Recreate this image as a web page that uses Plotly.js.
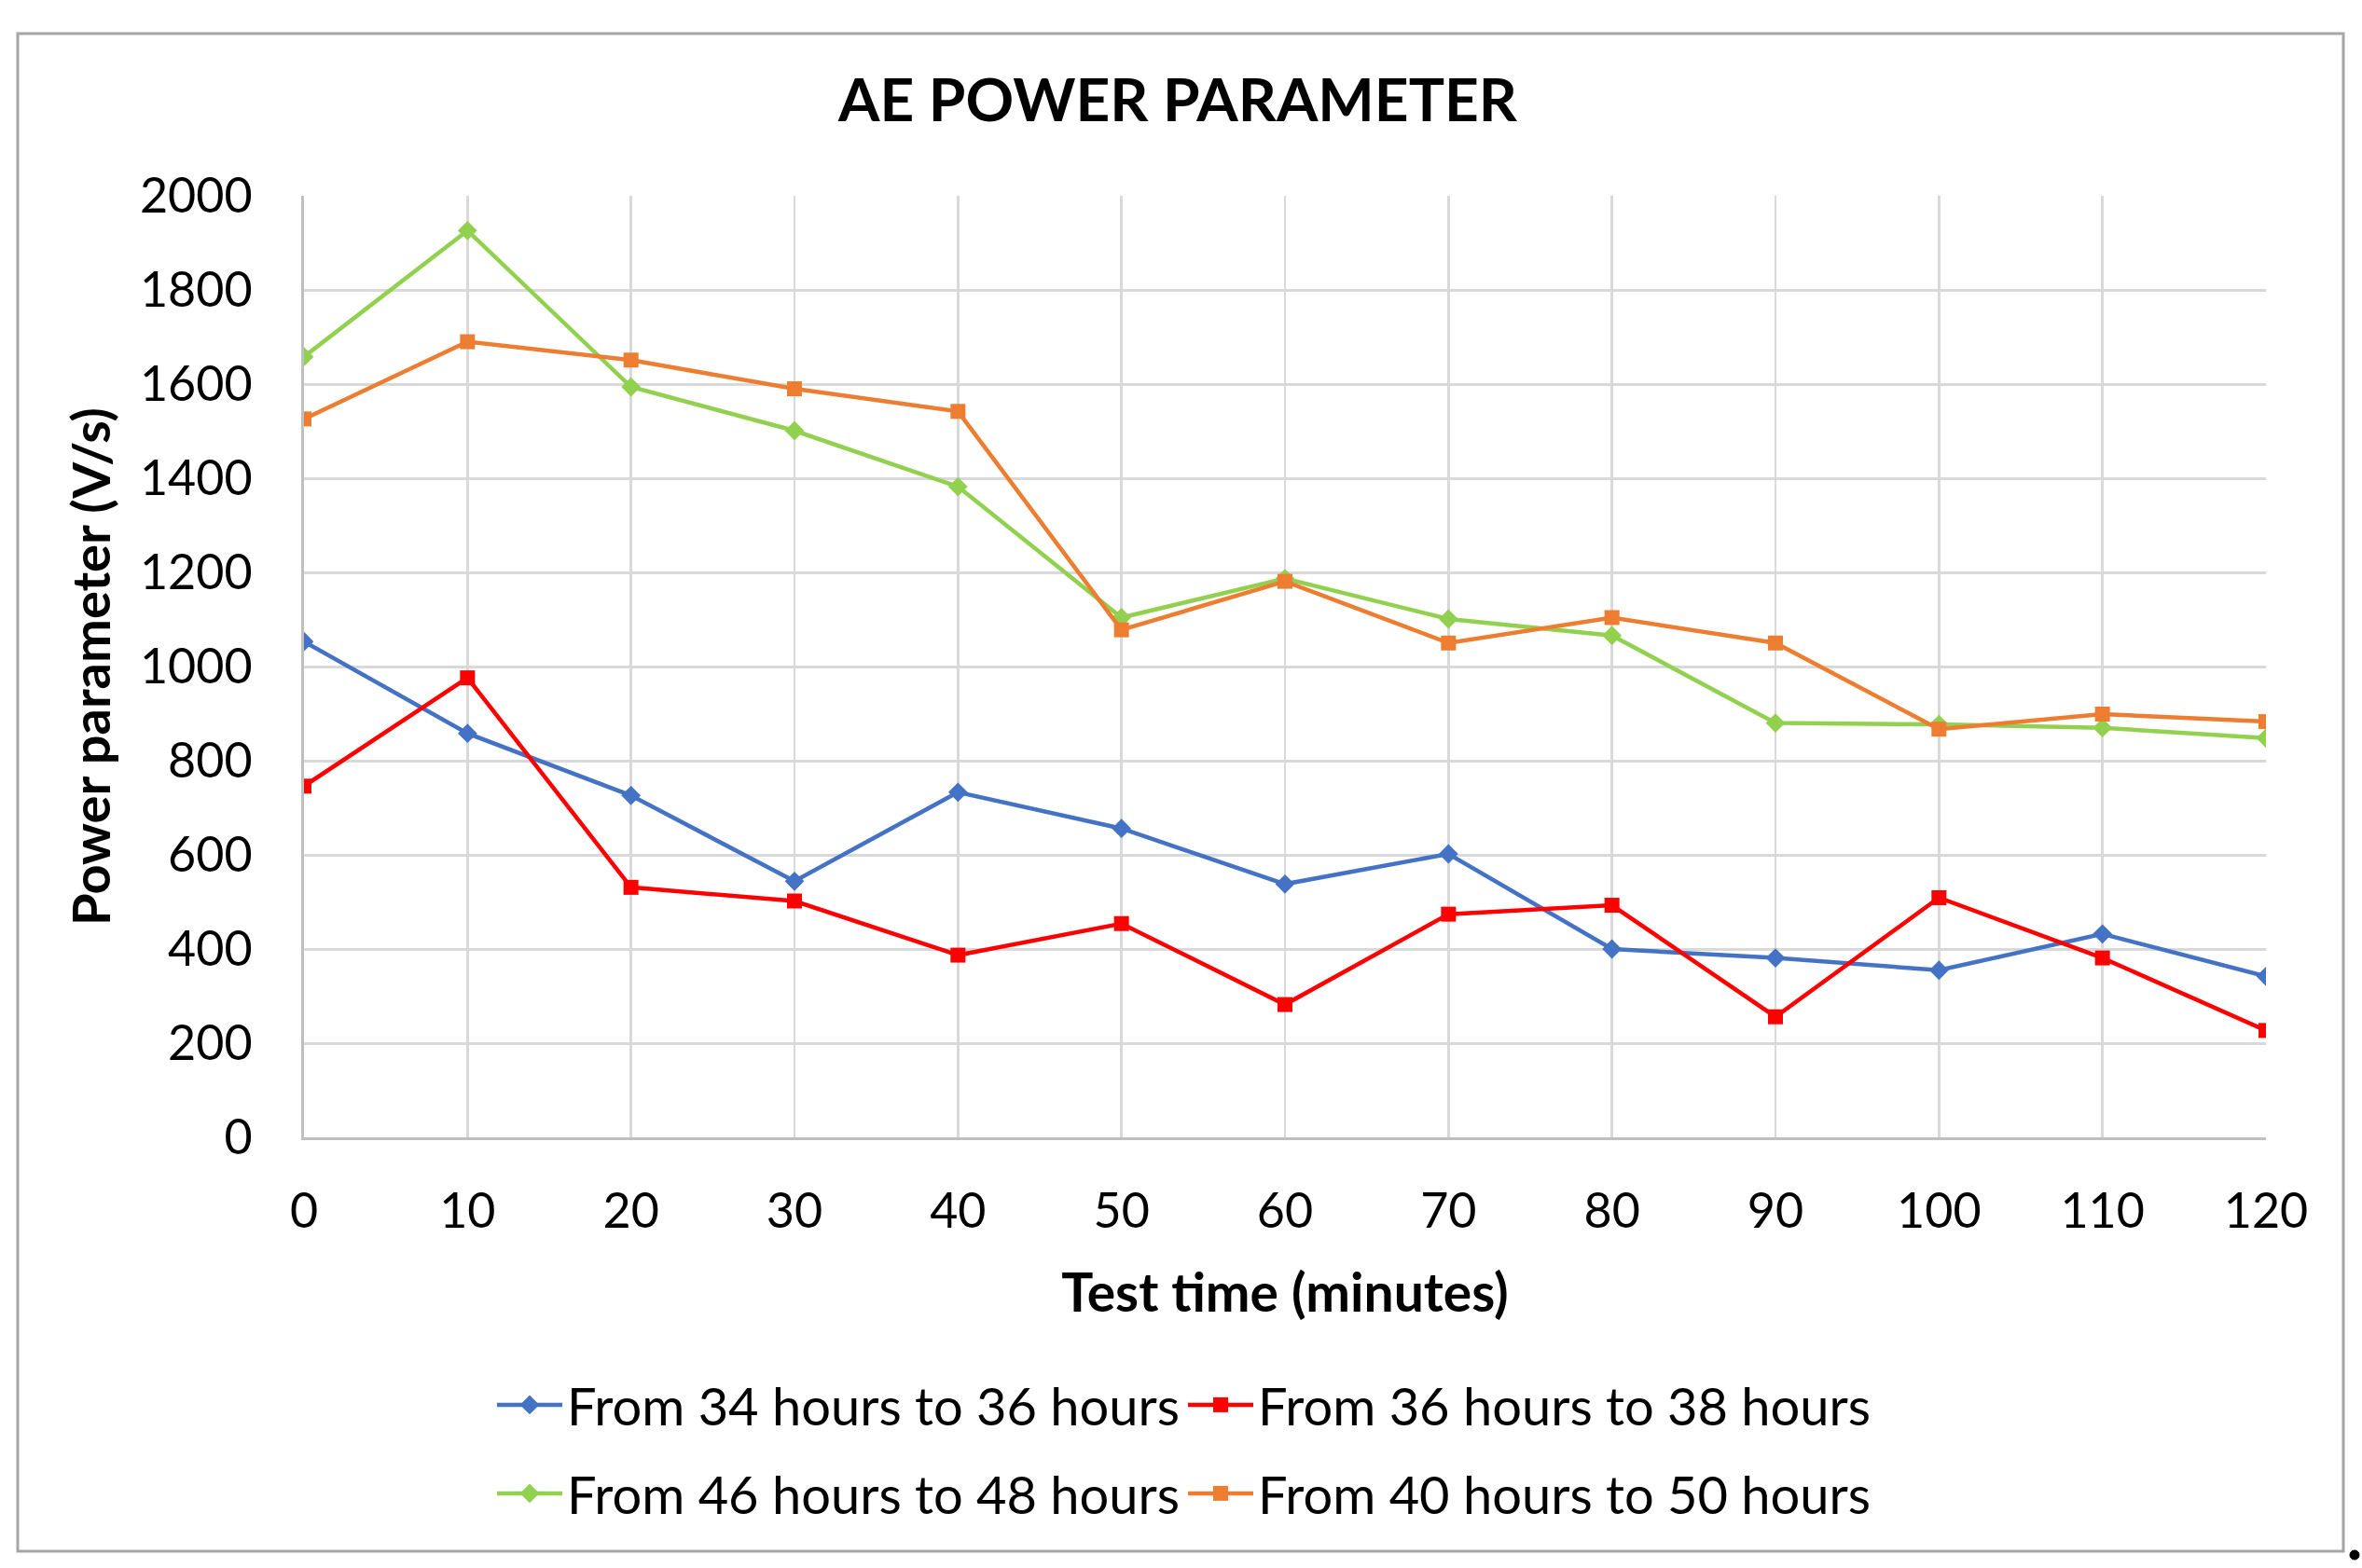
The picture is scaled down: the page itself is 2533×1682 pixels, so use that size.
<!DOCTYPE html>
<html>
<head>
<meta charset="utf-8">
<script src="https://cdn.plot.ly/plotly-3.0.1.min.js"></script>
<style>html,body{margin:0;padding:0;background:#fff;}#chart{width:2533px;height:1682px;}</style>
</head>
<body>
<div id="chart"></div>
<script>
// ---- data ----
const testTime = [0, 10, 20, 30, 40, 50, 60, 70, 80, 90, 100, 110, 120];
const xTickLabels = ["0", "10", "20", "30", "40", "50", "60", "70", "80", "90", "100", "110", "120"];
const seriesNames = ["From 34 hours to 36 hours", "From 36 hours to 38 hours", "From 46 hours to 48 hours", "From 40 hours to 50 hours"];
const h34to36 = [1053, 858, 726, 544, 733, 656, 538, 602, 400, 381, 355, 432, 342];
const h36to38 = [746, 976, 531, 502, 387, 454, 282, 474, 493, 256, 509, 381, 227];
const h46to48 = [1658, 1926, 1594, 1501, 1382, 1104, 1187, 1101, 1066, 880, 877, 870, 848];
const h40to50 = [1526, 1690, 1651, 1590, 1542, 1078, 1181, 1050, 1104, 1050, 867, 899, 883];

const W = 2533, H = 1682;
const M = {l: 326, r: 103, t: 210, b: 462};
const PW = W - M.l - M.r, PH = H - M.t - M.b;
const px = v => (v - M.l) / PW;
const py = v => (H - M.b - v) / PH;

const FONT = "Lato, 'Open Sans', sans-serif";

function mk(y, name, color, symbol, size, legend) {
  return {
    x: testTime, y: y, name: name, type: 'scatter', mode: 'lines+markers',
    line: {color: color, width: 4.5},
    marker: {color: color, symbol: symbol, size: size},
    legend: legend
  };
}

const traces = [
  mk(h34to36, seriesNames[0], '#4472C4', 'diamond', 16, 'legend'),
  mk(h36to38, seriesNames[1], '#FF0000', 'square', 16, 'legend'),
  mk(h46to48, seriesNames[2], '#92D050', 'diamond', 16, 'legend2'),
  mk(h40to50, seriesNames[3], '#ED7D31', 'square', 16, 'legend2')
];

const legendCommon = {
  orientation: 'h', xref: 'paper', yref: 'paper',
  xanchor: 'left', yanchor: 'middle',
  font: {family: FONT, size: 56, color: '#000'},
  entrywidth: 656, entrywidthmode: 'pixels',
  itemwidth: 70, bgcolor: 'rgba(0,0,0,0)', traceorder: 'normal'
};

const layout = {
  width: W, height: H,
  margin: M,
  paper_bgcolor: '#fff', plot_bgcolor: '#fff',
  showlegend: true,
  title: {
    text: 'AE POWER PARAMETER',
    font: {family: FONT, size: 64, weight: 700, color: '#000'},
    xref: 'container', yref: 'container',
    x: 1263 / W, y: 1 - 108 / H, xanchor: 'center', yanchor: 'middle'
  },
  xaxis: {
    range: [0, 120], tickvals: testTime, ticktext: xTickLabels,
    showgrid: true, gridcolor: '#D9D9D9', gridwidth: 2.5,
    showline: true, linecolor: '#BFBFBF', linewidth: 3,
    zeroline: false, ticks: '', ticklabelstandoff: 32,
    tickfont: {family: FONT, size: 52, color: '#000'},
    title: {text: 'Test time (minutes)', font: {family: FONT, size: 57, weight: 700, color: '#000'}, standoff: 40},
    automargin: false, fixedrange: true
  },
  yaxis: {
    range: [0, 2000], tickvals: [0, 200, 400, 600, 800, 1000, 1200, 1400, 1600, 1800, 2000],
    showgrid: true, gridcolor: '#D9D9D9', gridwidth: 3,
    showline: true, linecolor: '#BFBFBF', linewidth: 3,
    zeroline: false, ticks: '', ticklabelstandoff: 42,
    tickfont: {family: FONT, size: 52, color: '#000'},
    title: {text: 'Power parameter (V/s)', font: {family: FONT, size: 56, weight: 700, color: '#000'}, standoff: 14},
    automargin: false, fixedrange: true
  },
  legend: Object.assign({}, legendCommon, {x: px(528), y: py(1507)}),
  legend2: Object.assign({}, legendCommon, {x: px(528), y: py(1602)}),
  shapes: [
    {type: 'rect', xref: 'paper', yref: 'paper', x0: px(19), x1: px(2513), y0: py(1664), y1: py(36),
     line: {color: '#A6A6A6', width: 3}, fillcolor: 'rgba(0,0,0,0)', layer: 'below'},
    {type: 'circle', xref: 'paper', yref: 'paper', x0: px(2520), x1: px(2530), y0: py(1673), y1: py(1663),
     line: {color: '#000', width: 1}, fillcolor: '#000'}
  ]
};

Plotly.newPlot('chart', traces, layout, {staticPlot: true, displayModeBar: false});
</script>
</body>
</html>
